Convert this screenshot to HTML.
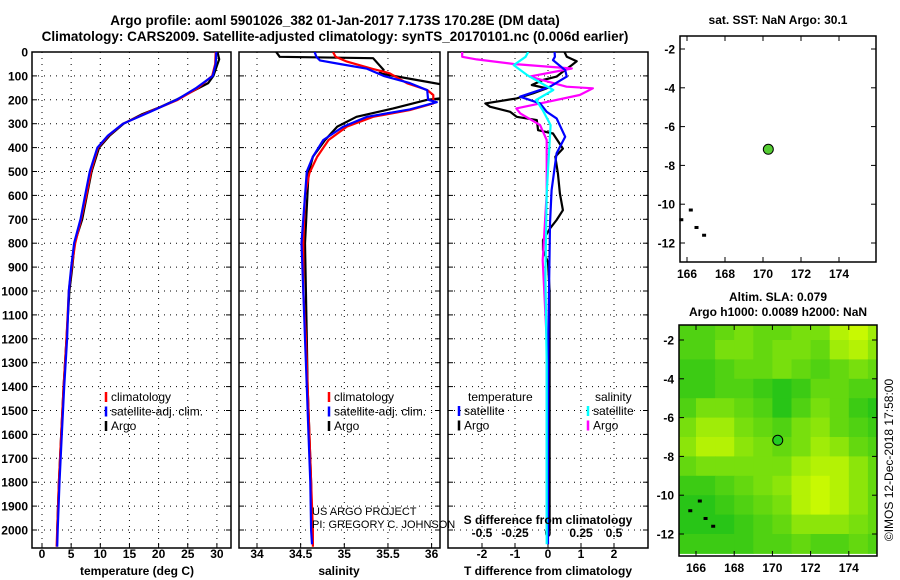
<!DOCTYPE html>
<html><head><meta charset="utf-8"><style>
html,body{margin:0;padding:0;background:#fff;}
svg{display:block;font-family:"Liberation Sans",Arial,sans-serif;font-weight:bold;}
</style></head><body>
<svg id="c" width="900" height="580" viewBox="0 0 900 580">
<text x="335" y="25" font-size="13.5" text-anchor="middle">Argo profile: aoml 5901026_382 01-Jan-2017 7.173S 170.28E (DM data)</text>
<text x="335" y="41" font-size="13.5" text-anchor="middle">Climatology: CARS2009. Satellite-adjusted climatology: synTS_20170101.nc (0.006d earlier)</text>
<text x="778" y="24" font-size="12" text-anchor="middle">sat. SST: NaN Argo: 30.1</text>
<text x="778" y="301" font-size="12" text-anchor="middle">Altim. SLA: 0.079</text>
<text x="778" y="316" font-size="12" text-anchor="middle">Argo h1000: 0.0089 h2000: NaN</text>
<text transform="translate(893,460) rotate(-90)" font-size="12" font-weight="normal" text-anchor="middle">©IMOS 12-Dec-2018 17:58:00</text>
<text x="687" y="278" font-size="12" text-anchor="middle">166</text>
<text x="725" y="278" font-size="12" text-anchor="middle">168</text>
<text x="763" y="278" font-size="12" text-anchor="middle">170</text>
<text x="801" y="278" font-size="12" text-anchor="middle">172</text>
<text x="839" y="278" font-size="12" text-anchor="middle">174</text>
<g id="g"></g>
</svg>
<script>
// ---- data ----
const depthTicks=[0,100,200,300,400,500,600,700,800,900,1000,1100,1200,1300,1400,1500,1600,1700,1800,1900,2000];
const tempTicks=[0,5,10,15,20,25,30];
const salTicks=[34,34.5,35,35.5,36];
const salTickLabels=["34","34.5","35","35.5","36"];
const tdTicks=[-2,-1,0,1,2];
const sdTicks=[-0.5,-0.25,0,0.25,0.5];
const sdTickLabels=["-0.5","-0.25","0","0.25","0.5"];
const lonTicks=[166,168,170,172,174];
const latTicks=[-2,-4,-6,-8,-10,-12];

const tClimDepth=[0,50,100,150,200,250,300,350,400,500,600,700,800,900,1000,1200,1400,1600,1800,2000,2070];
const tClim=[29.8,29.7,29.2,26.8,23.3,18.4,13.9,11.4,9.6,8.4,7.6,6.7,5.7,5.1,4.6,4.2,3.7,3.3,2.9,2.6,2.5];
const tSat=[29.9,29.8,29.3,26.5,23.1,18.6,13.9,11.3,9.5,8.2,7.4,6.6,5.5,5.0,4.6,4.3,3.8,3.4,3.0,2.7,2.6];
const tArgoDepth=[0,30,50,100,130,200,230,260,300,350,400,500,600,700,800,900,1000,1200,1400,1600,1800,2000];
const tArgo=[30.1,30.4,30.1,29.4,28.5,23.0,20.3,17.2,14.0,11.6,9.8,8.5,7.7,6.9,5.6,5.2,4.7,4.2,3.7,3.3,2.9,2.6];

const sClimDepth=[0,20,40,60,71,89,131,159,180,215,243,271,312,368,438,507,600,800,1000,1200,1400,1600,1800,2000,2070];
const sClim=[34.87,34.9,35.03,35.22,35.33,35.52,35.72,35.95,36.02,36.02,35.75,35.33,35.03,34.82,34.69,34.6,34.55,34.53,34.53,34.56,34.58,34.6,34.62,34.64,34.64];
const sSatDepth=[0,20,35,50,70,100,130,160,200,210,240,271,312,368,438,500,800,1000,1200,1400,1600,1800,2000,2060];
const sSat=[34.66,34.68,34.72,34.95,35.26,35.45,35.75,35.95,35.96,36.06,35.75,35.26,34.99,34.76,34.64,34.57,34.51,34.53,34.55,34.57,34.59,34.61,34.62,34.63];
const sArgoDepth=[0,20,26,75,89,117,138,192,200,236,271,312,368,438,507,800,1000,1200,1400,1600,1800,2000];
const sArgo=[34.22,34.26,35.33,35.45,35.4,35.83,36.15,36.15,35.95,35.56,35.14,34.92,34.78,34.64,34.59,34.55,34.56,34.57,34.58,34.6,34.62,34.63];

const dTArgoDepth=[0,20,39,55,82,103,117,138,152,173,194,215,229,250,271,285,327,341,404,438,508,592,662,703,738,787,829,880,1000,1500,2000];
const dTArgo=[0.5,0.57,0.87,0.72,0.45,0.26,-0.15,-0.49,-0.04,-0.45,-0.95,-1.9,-1.76,-1.15,-0.95,-0.34,-0.3,0.15,0.45,0.22,0.3,0.36,0.45,0.26,0.06,-0.15,-0.15,0.0,0.05,0.05,0.05];
const dTSatDepth=[0,20,34,76,103,145,187,215,250,278,355,424,578,717,1205,1600,2060];
const dTSat=[0.2,0.21,0.15,0.52,0.57,0.06,-0.85,-0.24,-0.04,0.26,0.52,0.26,0.11,0.06,0.01,0.0,0.0];
const dSArgoDepth=[0,20,31,50,69,103,145,152,180,215,236,257,306,368,591,871,1205,1600,2000];
const dSArgo=[-0.65,-0.65,-0.54,-0.26,0.18,-0.14,0.14,0.34,0.24,-0.06,-0.24,-0.21,-0.06,-0.01,-0.01,-0.04,-0.01,-0.01,-0.01];
const dSSatDepth=[0,20,55,96,159,201,243,306,591,940,1300,1700,2060];
const dSSat=[-0.15,-0.17,-0.26,-0.16,0.04,-0.09,-0.04,0.02,-0.01,-0.02,-0.01,-0.01,-0.01];

const floatLon=[170.28], floatLat=[-7.17];
const slaLons=[165.5,166.5,167.5,168.5,169.5,170.5,171.5,172.5,173.5,174.5,175.5];
const slaLats=[-1.5,-2.5,-3.5,-4.5,-5.5,-6.5,-7.5,-8.5,-9.5,-10.5,-11.5,-12.5];
const slaGrid=[
[0.3,0.3,0.4,0.5,0.4,0.4,0.5,0.5,0.8,0.9,0.7],
[0.3,0.3,0.5,0.5,0.4,0.5,0.5,0.4,0.7,0.8,0.6],
[0.2,0.2,0.3,0.4,0.4,0.5,0.4,0.3,0.4,0.5,0.4],
[0.2,0.2,0.3,0.3,0.2,0.1,0.2,0.4,0.4,0.3,0.3],
[0.3,0.5,0.5,0.4,0.3,0.1,0.3,0.5,0.4,0.2,0.1],
[0.5,0.7,0.7,0.5,0.4,0.3,0.5,0.6,0.4,0.3,0.2],
[0.6,0.8,0.8,0.6,0.5,0.4,0.5,0.7,0.6,0.4,0.3],
[0.4,0.5,0.5,0.5,0.5,0.5,0.7,0.8,0.8,0.6,0.4],
[0.2,0.2,0.3,0.4,0.5,0.6,0.8,0.9,0.8,0.6,0.4],
[0.1,0.1,0.2,0.3,0.4,0.5,0.8,0.9,0.8,0.6,0.4],
[0.1,0.1,0.1,0.2,0.3,0.4,0.6,0.6,0.6,0.5,0.4],
[0.2,0.2,0.2,0.2,0.3,0.3,0.4,0.3,0.3,0.4,0.3]];

// ---- helpers ----
const NS="http://www.w3.org/2000/svg";
const G=document.getElementById('g');
function mk(tag,attrs,parent){const e=document.createElementNS(NS,tag);for(const k in attrs)e.setAttribute(k,attrs[k]);(parent||G).appendChild(e);return e;}
const PT=52,PB=548;
const yD=d=>52+d*0.239;
const xT=v=>42+v*5.83;
const xS=v=>257+(v-34)*87.3;
const xTD=v=>548+v*33;
const xSD=v=>548+v*132;

function panel(x0,x1,name){
  const r=mk('rect',{x:x0,y:PT,width:x1-x0,height:PB-PT,fill:'none',stroke:'#000','stroke-width':1.5});
  
  
  depthTicks.forEach(d=>{
    const l=mk('line',{x1:x0,x2:x1,y1:yD(d),y2:yD(d),stroke:'#000','stroke-dasharray':'1,5','stroke-width':1});
    
    
    mk('line',{x1:x0,x2:x0+5,y1:yD(d),y2:yD(d),stroke:'#000'});
    mk('line',{x1:x1-5,x2:x1,y1:yD(d),y2:yD(d),stroke:'#000'});
  });
}
function vgrid(ticks,xf,x0,name){
  ticks.forEach(t=>{
    const l=mk('line',{x1:xf(t),x2:xf(t),y1:PT,y2:PB,stroke:'#000','stroke-dasharray':'1,5','stroke-width':1});
    
    
    mk('line',{x1:xf(t),x2:xf(t),y1:PB-5,y2:PB,stroke:'#000'});
  });
}
function xlabels(ticks,labels,xf,y,name){
  ticks.forEach((t,i)=>{
    const e=mk('text',{x:xf(t),y:y,'font-size':12,'text-anchor':'middle'});
    e.textContent=labels?labels[i]:String(t);
    
    
  });
}
function clip(id,x0,x1){const c=mk('clipPath',{id:id});mk('rect',{x:x0,y:PT,width:x1-x0,height:PB-PT},c);}
function legend(items,x,y0,name){
  items.forEach((it,i)=>{
    const y=y0+i*14.5;
    mk('line',{x1:x,x2:x,y1:y-9,y2:y+1,stroke:it[1],'stroke-width':2.5});
    const t=mk('text',{x:x+5,y:y,'font-size':12,'font-weight':'normal'});
    t.textContent=it[0];
    
    
  });
}
function lineIn(g,xs,ds,xf,color,name){const pts=xs.map((v,i)=>xf(v).toFixed(1)+','+yD(ds[i]).toFixed(1)).join(' ');
  const p=mk('polyline',{points:pts,fill:'none',stroke:color,'stroke-width':2.2,'stroke-linejoin':'round'},g);
  
  }

// panel 1
panel(32,231,'temperature-panel');vgrid(tempTicks,xT,32,'temperature');
depthTicks.forEach(d=>{const t=mk('text',{x:28,y:yD(d)+4.5,'font-size':12,'text-anchor':'end'});t.textContent=d;
  
  });
xlabels(tempTicks,null,xT,558,'temperature');
clip('c1',32,231);clip('c2',239,440);clip('c3',448,648);
let g1=mk('g',{'clip-path':'url(#c1)'});
lineIn(g1,tArgo,tArgoDepth,xT,'#000','temperature-argo-line');
lineIn(g1,tClim,tClimDepth,xT,'#f00','temperature-climatology-line');
lineIn(g1,tSat,tClimDepth,xT,'#00f','temperature-satellite-line');
legend([['climatology','#f00'],['satellite-adj. clim.','#00f'],['Argo','#000']],106,401,'temperature');
let tl=mk('text',{x:137,y:575,'font-size':12,'text-anchor':'middle'});tl.textContent='temperature (deg C)';


// panel 2
panel(239,440,'salinity-panel');vgrid(salTicks,xS,239,'salinity');
xlabels(salTicks,salTickLabels,xS,558,'salinity');
let g2=mk('g',{'clip-path':'url(#c2)'});
lineIn(g2,sArgo,sArgoDepth,xS,'#000','salinity-argo-line');
lineIn(g2,sClim,sClimDepth,xS,'#f00','salinity-climatology-line');
lineIn(g2,sSat,sSatDepth,xS,'#00f','salinity-satellite-line');
legend([['climatology','#f00'],['satellite-adj. clim.','#00f'],['Argo','#000']],329,401,'salinity');
let sl=mk('text',{x:339,y:575,'font-size':12,'text-anchor':'middle'});sl.textContent='salinity';

let u1=mk('text',{x:312,y:515,'font-size':11,'font-weight':'normal'});u1.textContent='US ARGO PROJECT';

let u2=mk('text',{x:312,y:528,'font-size':11,'font-weight':'normal'});u2.textContent='PI: GREGORY C. JOHNSON';


// panel 3
panel(448,648,'difference-panel');vgrid(tdTicks,xTD,448,'difference');
xlabels(tdTicks,null,xTD,558,'t-difference');
xlabels(sdTicks,sdTickLabels,xSD,537,'s-difference');
let g3=mk('g',{'clip-path':'url(#c3)'});
lineIn(g3,dTArgo,dTArgoDepth,xTD,'#000','t-diff-argo-line');
lineIn(g3,dSArgo,dSArgoDepth,xSD,'#f0f','s-diff-argo-line');
lineIn(g3,dTSat,dTSatDepth,xTD,'#00f','t-diff-satellite-line');
lineIn(g3,dSSat,dSSatDepth,xSD,'#0ff','s-diff-satellite-line');
let tt=mk('text',{x:468,y:401,'font-size':12,'font-weight':'normal'});tt.textContent='temperature';

let st=mk('text',{x:595,y:401,'font-size':12,'font-weight':'normal'});st.textContent='salinity';

legend([['satellite','#00f'],['Argo','#000']],459,415,'t-diff');
legend([['satellite','#0ff'],['Argo','#f0f']],588,415,'s-diff');
let td=mk('text',{x:548,y:575,'font-size':12,'text-anchor':'middle'});td.textContent='T difference from climatology';

let sd=mk('text',{x:548,y:524,'font-size':12,'text-anchor':'middle'});sd.textContent='S difference from climatology';


// maps
function map(x0,y0,x1,y1,lon0,lonS,lat0,latS,name,heat){
  const X=l=>lon0+(l-166)*lonS, Y=l=>lat0+(-2-l)*latS;
  if(heat){
    const g=mk('g',{});
    slaGrid.forEach((row,j)=>row.forEach((v,i)=>{
      const r=Math.round(20+v*200),gg=Math.round(190+v*65);
      const xa=Math.max(x0,X(slaLons[i]-0.5)),xb=Math.min(x1,X(slaLons[i]+0.5));
      const ya=Math.max(y0,Y(slaLats[j]+0.5)),yb=Math.min(y1,Y(slaLats[j]-0.5));
      if(xb>xa&&yb>ya){const c=mk('rect',{x:xa,y:ya,width:xb-xa+0.5,height:yb-ya+0.5,fill:`rgb(${r},${gg},${Math.round(25*(1-v))})`},g);
        
        }
    }));
  }
  const f=mk('rect',{x:x0,y:y0,width:x1-x0,height:y1-y0,fill:'none',stroke:'#000','stroke-width':1.5});
  
  lonTicks.forEach(l=>{mk('line',{x1:X(l),x2:X(l),y1:y1,y2:y1-5,stroke:'#000'});mk('line',{x1:X(l),x2:X(l),y1:y0,y2:y0+5,stroke:'#000'});
    if(heat){const t=mk('text',{x:X(l),y:y1+16,'font-size':12,'text-anchor':'middle'});t.textContent=String(l);
    
    }});
  latTicks.forEach(l=>{mk('line',{x1:x0,x2:x0+5,y1:Y(l),y2:Y(l),stroke:'#000'});mk('line',{x1:x1,x2:x1-5,y1:Y(l),y2:Y(l),stroke:'#000'});
    const t=mk('text',{x:x0-5,y:Y(l)+4.5,'font-size':12,'text-anchor':'end'});t.textContent=l;
    });
  const c=mk('circle',{cx:X(floatLon[0]),cy:Y(floatLat[0]),r:5,fill:heat?'#2c2':'#5c3',stroke:'#000','stroke-width':1});
  
  [[165.7,-10.8],[166.2,-10.3],[166.9,-11.6],[166.5,-11.2]].forEach(p=>{const d=mk('rect',{x:X(p[0])-2,y:Y(p[1])-1.5,width:4,height:3,fill:'#000'});
    });
}
map(680,36,876,262,687,19,49,19.4,'sst-map',false);
map(679,325,877,556,696,19.1,340,19.4,'sla-map',true);
</script>
</body></html>
